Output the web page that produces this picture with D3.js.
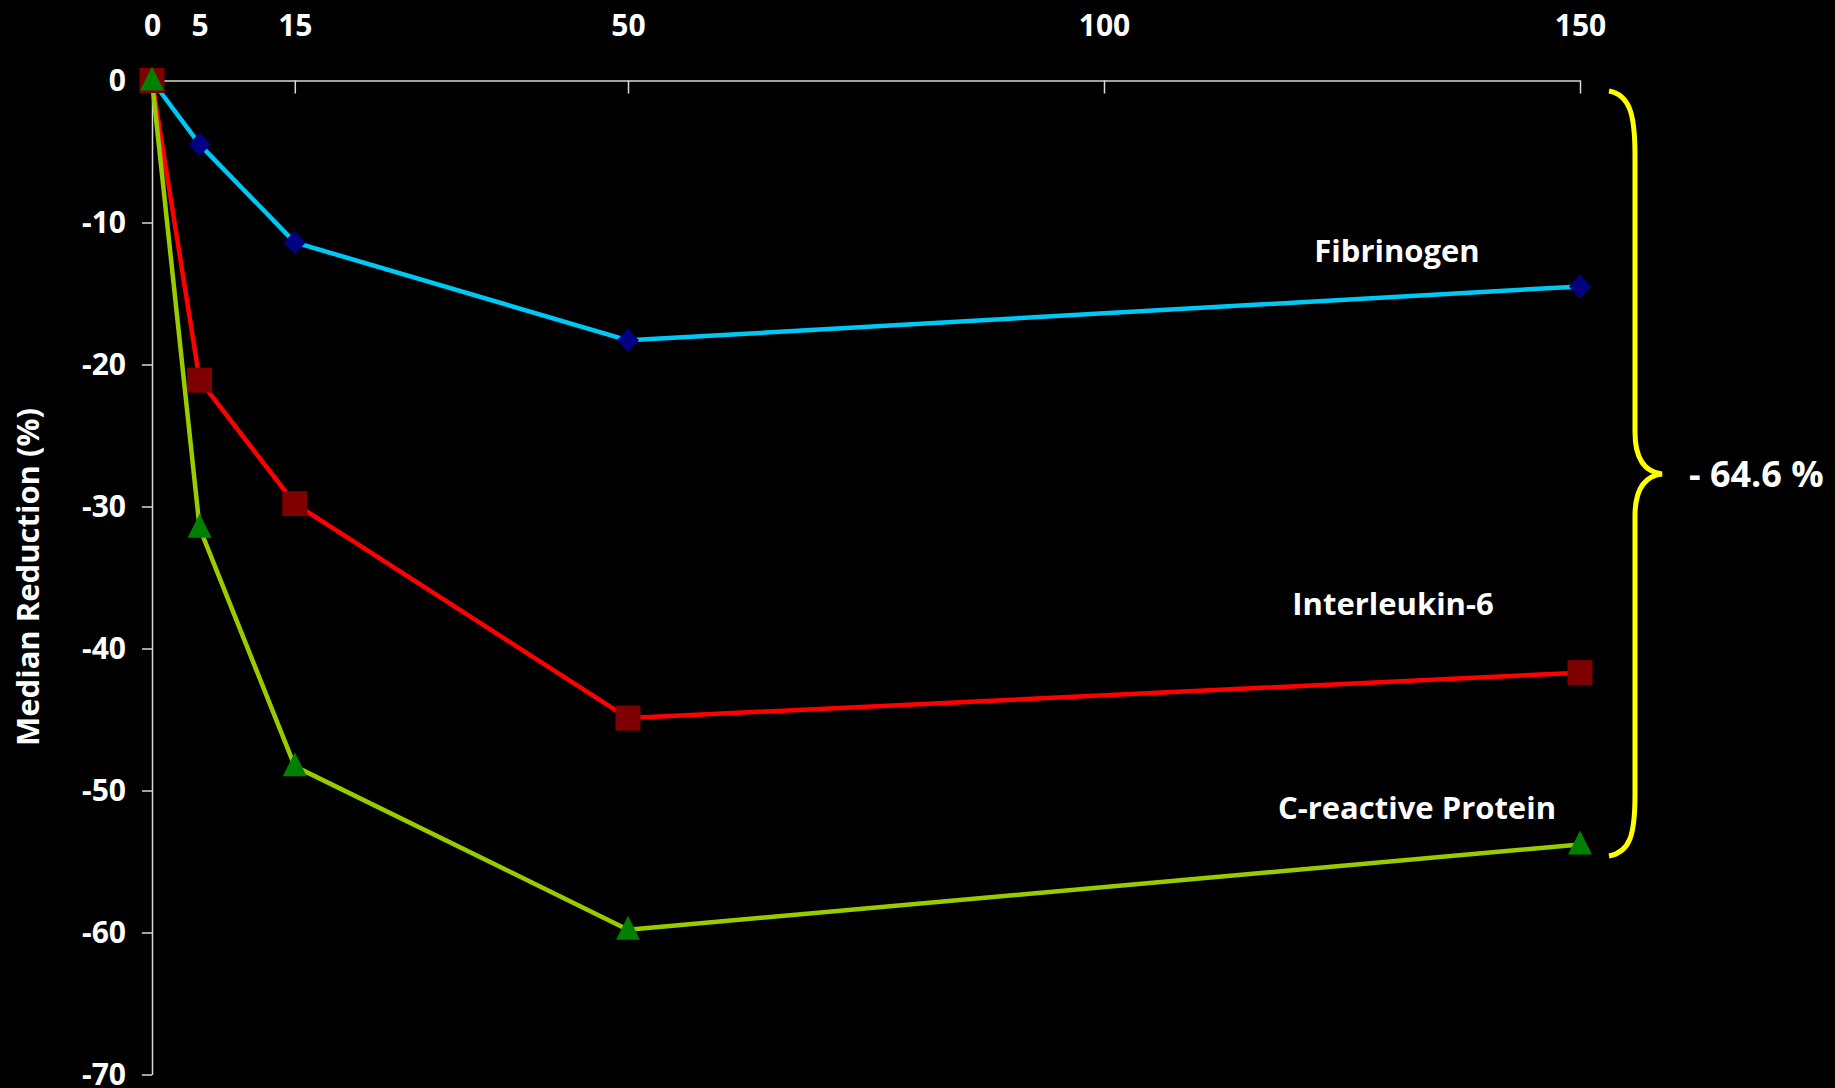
<!DOCTYPE html>
<html>
<head>
<meta charset="utf-8">
<script src="https://cdn.jsdelivr.net/npm/d3@7"></script>
<style>
  html, body { margin: 0; padding: 0; background: #000; }
  svg { display: block; }
  text { font-family: "Open Sans", "DejaVu Sans", sans-serif; font-weight: bold; fill: #fff; }
</style>
</head>
<body>
<script>
// ---- data ----
const doses = [0, 5, 15, 50, 150];
const fibrinogen = [0, -4.5, -11.4, -18.3, -14.5];
const interleukin6 = [0, -21.1, -29.8, -44.9, -41.7];
const crp = [0, -31.5, -48.3, -59.8, -53.8];
const seriesNames = ["Fibrinogen", "Interleukin-6", "C-reactive Protein"];
const xTicks = [0, 5, 15, 50, 100, 150];
const yTicks = [0, -10, -20, -30, -40, -50, -60, -70];
const yTitle = "Median Reduction (%)";
const braceLabel = "- 64.6 %";

// ---- layout ----
const W = 1835, H = 1088;
const svg = d3.select("body").append("svg").attr("width", W).attr("height", H);
svg.append("rect").attr("width", W).attr("height", H).attr("fill", "#000");

const x = d3.scaleLinear().domain([0, 150]).range([152, 1580]);
const y = d3.scaleLinear().domain([0, -70]).range([80.5, 1074.5]);

const fmt = d => String(d);
// axes
const yAxis = svg.append("g").attr("transform", `translate(${x(0)},0)`)
  .call(d3.axisLeft(y).tickValues(yTicks).tickSizeInner(10).tickSizeOuter(0).tickPadding(16).tickFormat(fmt));
const xAxis = svg.append("g").attr("transform", `translate(0,${y(0)})`)
  .call(d3.axisTop(x).tickValues(xTicks).tickSizeInner(-13).tickSizeOuter(0).tickPadding(45).tickFormat(fmt));
[xAxis, yAxis].forEach(g => {
  g.select(".domain").attr("stroke", "#d9d9d9").attr("stroke-width", 1.5);
  g.selectAll(".tick line").attr("stroke", "#d9d9d9").attr("stroke-width", 1.5);
  g.selectAll(".tick text").attr("fill", "#fff").style("font-size", "30px")
    .style("font-family", '"Open Sans", sans-serif').style("font-weight", "bold");
});
xAxis.selectAll(".tick text").attr("dy", "0");
xAxis.selectAll(".tick").filter(d => d === 0 || d === 5).select("line").remove();

svg.append("text")
  .attr("transform", `translate(39,577) rotate(-90)`)
  .attr("text-anchor", "middle")
  .style("font-size", "31px")
  .text(yTitle);

// series
const markerPaths = {
  diamond: "M0,-12 L11,0 L0,12 L-11,0 Z",
  square: "M-12.5,-12.5 H12.5 V12.5 H-12.5 Z",
  triangle: "M0,-14 L12,10 L-12,10 Z"
};
const series = [
  { name: seriesNames[0], values: fibrinogen, line: "#00C8F5", marker: "diamond", fill: "#000080" },
  { name: seriesNames[1], values: interleukin6, line: "#FF0000", marker: "square", fill: "#7F0000" },
  { name: seriesNames[2], values: crp, line: "#99CC00", marker: "triangle", fill: "#008000" }
];
const lineGen = d3.line().x((d, i) => x(doses[i])).y(d => y(d));
series.forEach(s => {
  svg.append("path").datum(s.values)
    .attr("d", lineGen).attr("fill", "none")
    .attr("stroke", s.line).attr("stroke-width", 4.5).attr("stroke-linejoin", "round");
});
series.forEach(s => {
  svg.append("g").selectAll("path").data(s.values).join("path")
    .attr("transform", (d, i) => `translate(${x(doses[i])},${y(d)})`)
    .attr("d", markerPaths[s.marker]).attr("fill", s.fill);
});

// series labels
const labels = [
  { text: seriesNames[0], cx: 1397, by: 262 },
  { text: seriesNames[1], cx: 1393, by: 615 },
  { text: seriesNames[2], cx: 1417, by: 819 }
];
svg.append("g").selectAll("text").data(labels).join("text")
  .attr("x", d => d.cx).attr("y", d => d.by)
  .attr("text-anchor", "middle").style("font-size", "31px")
  .text(d => d.text);

// brace
svg.append("path")
  .attr("d", "M1609,91 C1630,95 1635,115 1635,155 L1635,432 C1635,460 1645,472 1662,474 C1645,476 1635,488 1635,516 L1635,795 C1635,835 1630,852 1609,856")
  .attr("fill", "none").attr("stroke", "#FFFF00").attr("stroke-width", 5);
svg.append("text").attr("x", 1689).attr("y", 487)
  .style("font-size", "36px").text(braceLabel);
</script>
</body>
</html>
